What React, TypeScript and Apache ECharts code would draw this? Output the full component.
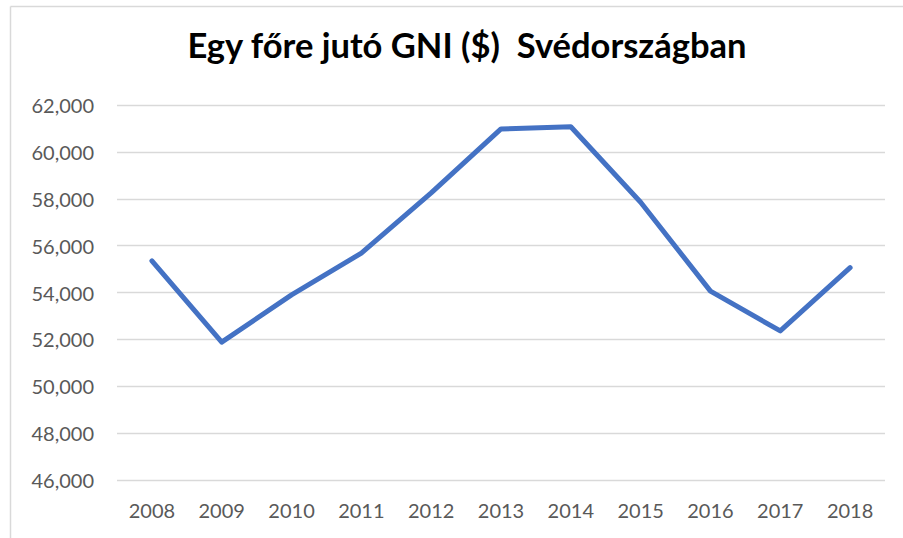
import React, { useEffect, useRef } from "react";
import * as echarts from "echarts";

const years = ["2008", "2009", "2010", "2011", "2012", "2013", "2014", "2015", "2016", "2017", "2018"];
const gniPerCapita = [55350, 51880, 53900, 55680, 58250, 60980, 61070, 57850, 54060, 52360, 55060];
const yMin = 46000;
const yMax = 62000;
const yStep = 2000;
const titleText = "Egy főre jutó GNI ($)  Svédországban";

export default function App() {
  const ref = useRef<HTMLDivElement>(null);
  useEffect(() => {
    if (!ref.current) return;
    const chart = echarts.init(ref.current, null, { renderer: "svg" });
    chart.setOption({
      animation: false,
      backgroundColor: "#ffffff",
      title: {
        text: titleText,
        left: 462,
        top: 22,
        textAlign: "center",
        textStyle: {
          fontFamily: "Lato",
          fontWeight: "bold",
          fontSize: 34.5,
          color: "#000000",
        },
      },
      graphic: [
        {
          type: "line",
          shape: { x1: 10.5, y1: 6.5, x2: 903, y2: 6.5 },
          style: { stroke: "#d9d9d9", lineWidth: 1.5 },
          silent: true,
        },
        {
          type: "line",
          shape: { x1: 10.5, y1: 6.5, x2: 10.5, y2: 538 },
          style: { stroke: "#d9d9d9", lineWidth: 1.5 },
          silent: true,
        },
      ],
      grid: { left: 117, right: 18, top: 105, bottom: 58, containLabel: false },
      xAxis: {
        type: "category",
        data: years,
        boundaryGap: true,
        axisLine: { show: false },
        axisTick: { show: false },
        axisLabel: {
          margin: 20,
          color: "#595959",
          fontFamily: "Lato",
          fontSize: 20,
        },
      },
      yAxis: {
        type: "value",
        min: yMin,
        max: yMax,
        interval: yStep,
        axisLine: { show: false },
        axisTick: { show: false },
        splitLine: { lineStyle: { color: "#d9d9d9", width: 1.3 } },
        axisLabel: {
          margin: 23,
          color: "#595959",
          fontFamily: "Lato",
          fontSize: 20,
          formatter: (v: number) => v.toLocaleString("en-US"),
        },
      },
      series: [
        {
          type: "line",
          data: gniPerCapita,
          showSymbol: false,
          symbol: "none",
          lineStyle: { color: "#4472C4", width: 5, cap: "round", join: "round" },
        },
      ],
    });
    return () => chart.dispose();
  }, []);
  return <div ref={ref} style={{ width: 903, height: 538, position: "absolute", left: 0, top: 0 }} />;
}
